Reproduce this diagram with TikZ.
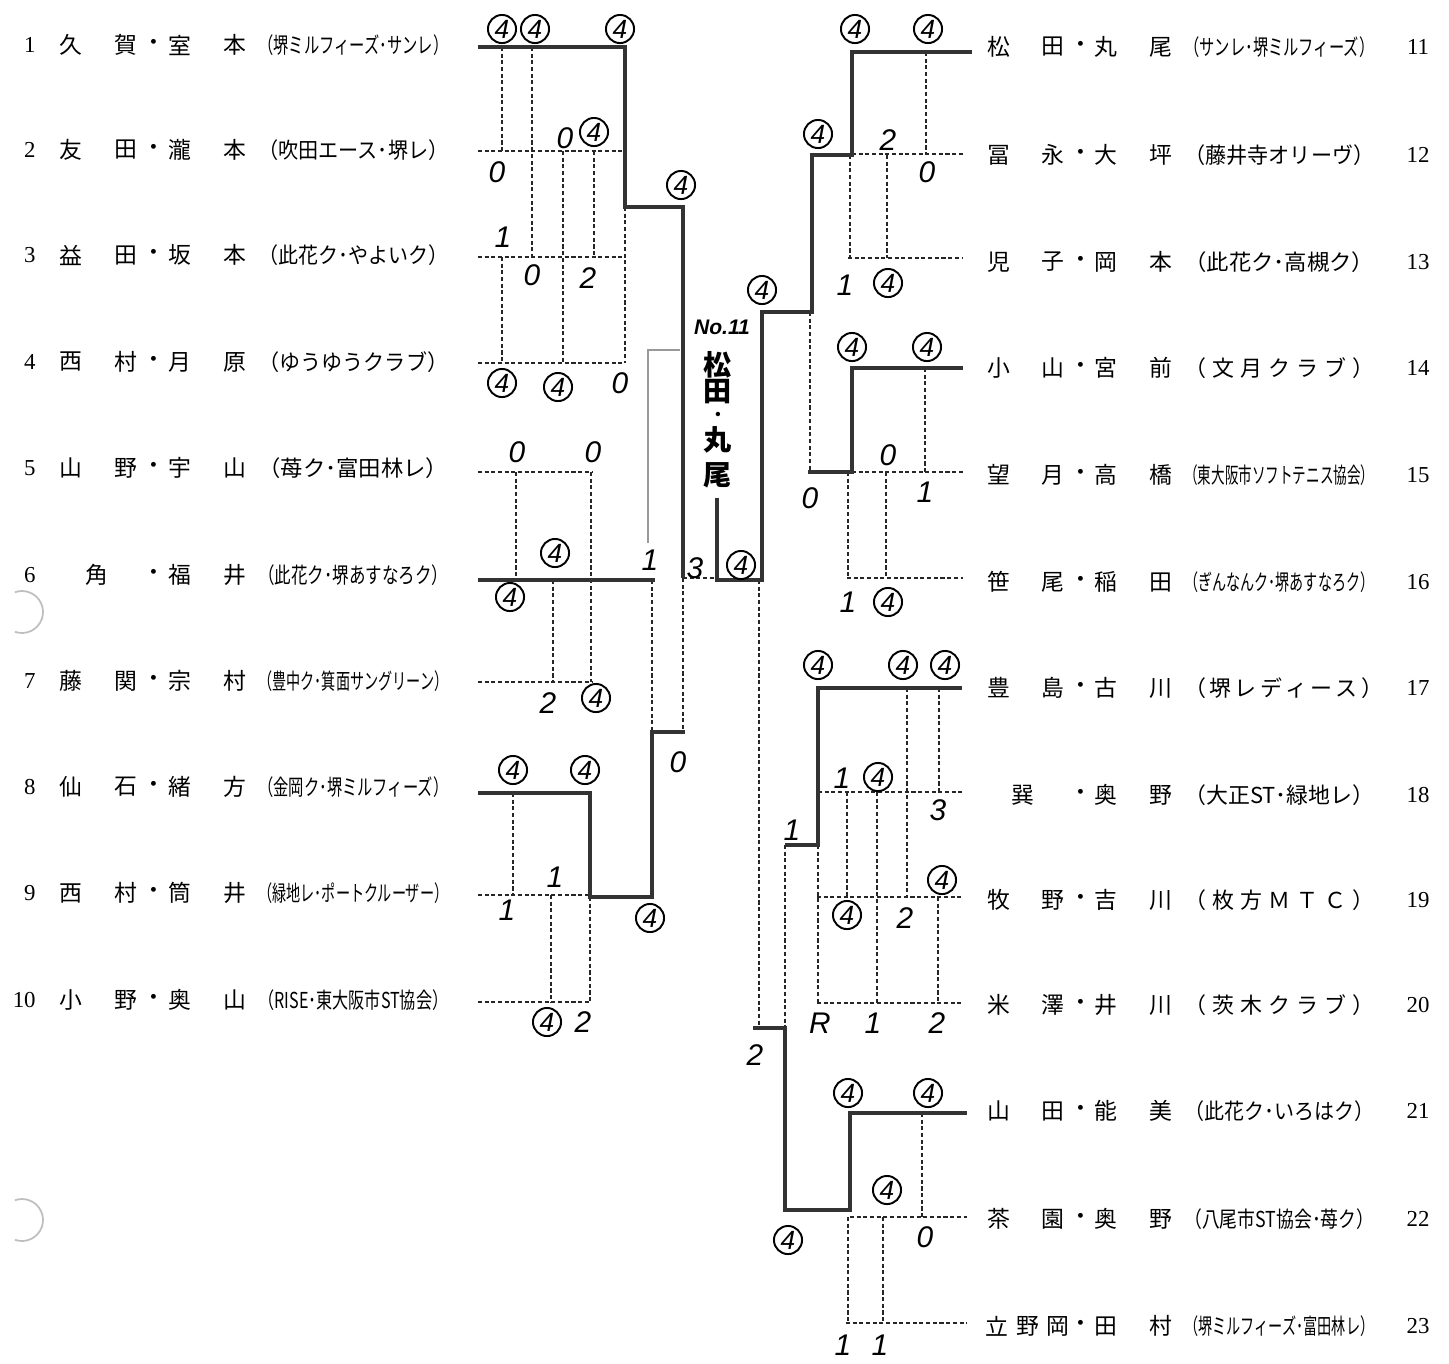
\documentclass[tikz,border=0pt]{standalone}
\usepackage{fontspec}
\usepackage{graphicx}
\setmainfont{Liberation Serif}
\newfontfamily\jp{Noto Sans CJK JP}
\newfontfamily\hand{Liberation Sans}
\usetikzlibrary{positioning}

\newcommand{\cf}[1]{\resizebox{3.8cm}{\height}{#1}}
\newcommand{\cs}[1]{\makebox[3.8cm][s]{#1}}

\begin{document}
\begin{tikzpicture}
	[x=0.02cm,y=-0.02cm,
	nm/.style={font=\jp\fontsize{13}{13}\selectfont,inner sep=0pt},
	cl/.style={font=\jp\fontsize{12.5}{13}\selectfont,inner sep=0pt,anchor=west},
	num/.style={font=\fontsize{13}{13}\selectfont,inner sep=0pt},
	win/.style={line width=2.6pt,draw=black!80,line join=miter},
	dl/.style={line width=0.7pt,draw=black!85,dash pattern=on 2.3pt off 1.5pt},
	cir/.style={circle,draw,line width=1.1pt,inner sep=0pt,minimum size=16pt,font=\hand\itshape\fontsize{15}{15}\selectfont},
	sc/.style={inner sep=0pt,font=\hand\itshape\fontsize{17}{17}\selectfont}]
	\useasboundingbox (0,0) rectangle (1449,1363);
	\fill[white] (0,0) rectangle (1449,1363);

	\foreach \n/\y/\a/\b/\c/\d/\t in
	{1/45/久/賀/室/本/{\cf{（堺ミルフィーズ･サンレ）}},
	 2/150/友/田/瀧/本/{\cf{（吹田エース･堺レ）}},
	 3/255/益/田/坂/本/{\cf{（此花ク･やよいク）}},
	 4/362/西/村/月/原/{\cf{（ゆうゆうクラブ）}},
	 5/468/山/野/宇/山/{\cf{（苺ク･富田林レ）}},
	 7/681/藤/関/宗/村/{\cf{（豊中ク･箕面サングリーン）}},
	 8/787/仙/石/緒/方/{\cf{（金岡ク･堺ミルフィーズ）}},
	 9/893/西/村/筒/井/{\cf{（緑地レ･ポートクルーザー）}},
	 10/1000/小/野/奥/山/{\cf{（RISE･東大阪市ST協会）}}}
	{
		\node[num,anchor=east] (ln\n) at (36,\y) {\n};
		\node[nm] (la\n) at (71,\y) {\a};
		\node[nm] (lb\n) at (126,\y) {\b};
		\node[nm] (lm\n) at (154,\y) {・};
		\node[nm] (lc\n) at (180,\y) {\c};
		\node[nm] (ld\n) at (235,\y) {\d};
		\node[cl] (lt\n) at (258,\y) {\t};
	}
	\node[num,anchor=east] (ln6) at (36,575) {6};
	\node[nm] (la6) at (97,575) {角};
	\node[nm] (lm6) at (154,575) {・};
	\node[nm] (lc6) at (180,575) {福};
	\node[nm] (ld6) at (235,575) {井};
	\node[cl] (lt6) at (258,575) {\cf{（此花ク･堺あすなろク）}};

	\foreach \n/\y/\a/\b/\c/\d/\t in
	{11/47/松/田/丸/尾/{\cf{（サンレ･堺ミルフィーズ）}},
	 12/155/冨/永/大/坪/{\cf{（藤井寺オリーヴ）}},
	 13/262/児/子/岡/本/{\cf{（此花ク･高槻ク）}},
	 14/368/小/山/宮/前/{\cs{（ 文 月 ク ラ ブ ）}},
	 15/475/望/月/高/橋/{\cf{（東大阪市ソフトテニス協会）}},
	 16/582/笹/尾/稲/田/{\cf{（ぎんなんク･堺あすなろク）}},
	 17/688/豊/島/古/川/{\cs{（ 堺 レ デ ィ ー ス ）}},
	 19/900/牧/野/吉/川/{\cs{（ 枚 方 Ｍ Ｔ Ｃ ）}},
	 20/1005/米/澤/井/川/{\cs{（ 茨 木 ク ラ ブ ）}},
	 21/1111/山/田/能/美/{\cf{（此花ク･いろはク）}},
	 22/1219/茶/園/奥/野/{\cf{（八尾市ST協会･苺ク）}}}
	{
		\node[nm] (ra\n) at (999,\y) {\a};
		\node[nm] (rb\n) at (1053,\y) {\b};
		\node[nm] (rm\n) at (1081,\y) {・};
		\node[nm] (rc\n) at (1106,\y) {\c};
		\node[nm] (rd\n) at (1161,\y) {\d};
		\node[cl] (rt\n) at (1184,\y) {\t};
		\node[num] (rn\n) at (1418,\y) {\n};
	}
	\node[nm] (ra18) at (1023,795) {巽};
	\node[nm] (rm18) at (1081,795) {・};
	\node[nm] (rc18) at (1106,795) {奥};
	\node[nm] (rd18) at (1161,795) {野};
	\node[cl] (rt18) at (1184,795) {\cf{（大正ST･緑地レ）}};
	\node[num] (rn18) at (1418,795) {18};
	\node[nm] (ra23) at (997,1326) {立};
	\node[nm] (rb23) at (1028,1326) {野};
	\node[nm] (re23) at (1058,1326) {岡};
	\node[nm] (rm23) at (1081,1326) {・};
	\node[nm] (rc23) at (1106,1326) {田};
	\node[nm] (rd23) at (1161,1326) {村};
	\node[cl] (rt23) at (1184,1326) {\cf{（堺ミルフィーズ･富田林レ）}};
	\node[num] (rn23) at (1418,1326) {23};

	\foreach \a/\b/\c/\d in
	{478/151/622/151, 478/257/623/257, 478/363/623/363,
	 502/47/502/151, 532/47/532/257, 625/207/625/363,
	 502/257/502/363, 563/151/563/363, 594/151/594/257,
	 478/472/592/472, 478/682/592/682, 516/472/516/580,
	 591/472/591/682, 553/580/553/682, 652/580/652/732,
	 683/578/683/732, 683/578/717/578,
	 478/895/590/895, 478/1002/590/1002, 513/793/513/895,
	 590/897/590/1002, 551/895/551/1002,
	 759/580/759/1028,
	 852/154/963/154, 848/258/963/258, 926/52/926/154,
	 850/155/850/258, 887/155/887/258, 810/312/810/472,
	 852/472/963/472, 847/578/963/578, 925/368/925/472,
	 848/472/848/578, 886/472/886/578,
	 818/792/962/792, 817/897/962/897, 817/1003/962/1003,
	 818/845/818/1003, 847/792/847/897, 877/792/877/1003,
	 907/688/907/897, 939/688/939/792, 938/897/938/1003,
	 785/845/785/1028,
	 850/1217/967/1217, 846/1323/967/1323, 922/1113/922/1217,
	 848/1217/848/1323, 883/1217/883/1323}
	\draw[dl] (\a,\b) -- (\c,\d);

	\draw[win] (478,47) -- (625,47) -- (625,207) -- (683,207) -- (683,578);
	\draw[win] (478,580) -- (655,580);
	\draw[win] (478,793) -- (590,793) -- (590,897) -- (652,897) -- (652,732) -- (685,732);
	\draw[win] (717,498) -- (717,580) -- (762,580) -- (762,312) -- (812,312) -- (812,155) -- (852,155) -- (852,52) -- (972,52);
	\draw[win] (808,472) -- (852,472) -- (852,368) -- (963,368);
	\draw[win] (785,845) -- (818,845) -- (818,688) -- (962,688);
	\draw[win] (753,1028) -- (785,1028) -- (785,1210) -- (850,1210) -- (850,1113) -- (967,1113);
	\draw[black!40,line width=0.6pt] (648,543) -- (648,350) -- (680,350);

	\foreach \x/\y [count=\i] in
	{502/29, 535/29, 620/29, 594/132, 558/387, 502/383, 681/185,
	 510/597, 555/553, 596/698,
	 513/770, 585/770, 547/1022, 650/918,
	 741/565, 762/290,
	 855/29, 928/29, 818/134, 888/283,
	 852/347, 927/347, 888/602,
	 818/665, 903/665, 945/665, 878/777, 847/915, 942/880,
	 848/1093, 928/1093, 887/1190, 788/1240}
	\node[cir] (c\i) at (\x,\y) {4};

	\foreach \x/\y/\s [count=\i] in
	{497/172/0, 532/275/0, 620/383/0, 565/138/0, 588/278/2, 503/237/1,
	 517/452/0, 593/452/0, 548/703/2, 650/560/1,
	 678/762/0, 695/568/3,
	 555/877/1, 507/910/1, 583/1022/2,
	 755/1055/2,
	 888/140/2, 927/172/0, 845/285/1,
	 888/455/0, 925/492/1, 848/602/1, 810/498/0,
	 842/778/1, 938/810/3, 905/918/2, 873/1023/1, 937/1023/2, 820/1023/R, 792/830/1,
	 925/1237/0, 843/1345/1, 880/1345/1}
	\node[sc] (s\i) at (\x,\y) {\s};

	\node[sc,font=\hand\itshape\bfseries\fontsize{12}{12}\selectfont] (champno) at (722,327) {No.11};
	\foreach \y/\k/\f [count=\i] in {365/松/16, 392/田/16, 416/・/9, 440/丸/16, 475/尾/16}
	\node[nm,font=\jp\bfseries\fontsize{\f}{\f}\selectfont] (ch\i) at (718,\y) {\k};

	\draw[black!25,line width=1pt] (22,612) ++(110:21) arc[start angle=110,end angle=-110,radius=21];
	\draw[black!25,line width=1pt] (22,1220) ++(110:21) arc[start angle=110,end angle=-110,radius=21];
\end{tikzpicture}
\end{document}
